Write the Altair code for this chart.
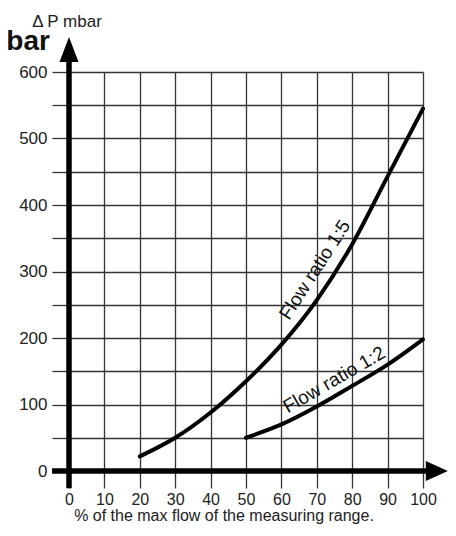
import altair as alt
import pandas as pd

# Curve data
x15 = [20, 30, 40, 50, 60, 70, 80, 90, 100]
y15 = [22, 50, 88, 135, 190, 257, 341, 443, 545]
x12 = [50, 60, 70, 80, 90, 100]
y12 = [50, 70, 97, 128, 160, 198]

x_ticks = list(range(0, 101, 10))
y_ticks = list(range(0, 601, 50))

label_names = ["Flow ratio 1:5", "Flow ratio 1:2"]
label_x = [69.5, 74.9]
label_y = [302.5, 137]

FONT = "Liberation Sans"
GRID = "#333333"

xs = alt.Scale(domain=[0, 100], nice=False, zero=False)
ys = alt.Scale(domain=[0, 600], nice=False, zero=False)

curves = pd.DataFrame({
    "x": x15 + x12,
    "y": y15 + y12,
    "series": ["1:5"] * len(x15) + ["1:2"] * len(x12),
})

xaxis = alt.Axis(
    values=x_ticks, grid=True, gridColor=GRID, gridWidth=1.3, gridOpacity=1,
    ticks=True, tickSize=17, tickColor=GRID, tickWidth=1.3, domain=False,
    labelFont=FONT, labelFontSize=16, labelColor="#222", labelPadding=3,
    labelFlush=False, labelOverlap=False,
    title="% of the max flow of the measuring range.", titleFont=FONT,
    titleFontSize=16, titleFontWeight="normal", titleColor="#222",
    titleX=154.5, titleY=49, titleAlign="center", titleBaseline="alphabetic",
)
yaxis = alt.Axis(
    values=y_ticks, grid=True, gridColor=GRID, gridWidth=1.3, gridOpacity=1,
    ticks=True, tickSize=17, tickColor=GRID, tickWidth=1.3, domain=False,
    labelFont=FONT, labelFontSize=17, labelColor="#222", labelPadding=5,
    labelExpr="datum.value % 100 === 0 ? datum.label : ''",
    labelFlush=False, labelOverlap=False,
    title="Δ P mbar", titleFont=FONT, titleFontSize=17, titleFontWeight="normal",
    titleColor="#222", titleAngle=0, titleX=-2.5, titleY=-46,
    titleAlign="center", titleBaseline="alphabetic",
)

X = alt.X("x:Q", scale=xs, axis=xaxis)
Y = alt.Y("y:Q", scale=ys, axis=yaxis)

lines = alt.Chart(curves).mark_line(
    color="black", strokeWidth=4, strokeCap="round", interpolate="monotone"
).encode(x=X, y=Y, detail="series:N")

axes_df = pd.DataFrame({"x": [0, -4.8], "x2": [0, 105], "y": [-26, 0], "y2": [634, 0]})
axis_lines = alt.Chart(axes_df).mark_rule(color="black", strokeWidth=5.5).encode(
    x=X, x2="x2:Q", y=Y, y2="y2:Q",
)

up_arrow = alt.Chart(pd.DataFrame({"x": [0], "y": [633.8]})).mark_point(
    shape="M -0.95 1.25 L 0 -1.25 L 0.95 1.25 Z", size=400, filled=True,
    color="black", opacity=1, strokeWidth=0,
).encode(x=X, y=Y)

right_arrow = alt.Chart(pd.DataFrame({"x": [103.9], "y": [0]})).mark_point(
    shape="M -1.1 -1 L 1.1 0 L -1.1 1 Z", size=400, filled=True,
    color="black", opacity=1, strokeWidth=0,
).encode(x=X, y=Y)

lab15 = alt.Chart(pd.DataFrame({"x": [label_x[0]], "y": [label_y[0]], "t": [label_names[0]]})).mark_text(
    font=FONT, fontSize=19, color="#111", angle=303, align="center", baseline="middle"
).encode(x=X, y=Y, text="t:N")

lab12 = alt.Chart(pd.DataFrame({"x": [label_x[1]], "y": [label_y[1]], "t": [label_names[1]]})).mark_text(
    font=FONT, fontSize=19, color="#111", angle=330, align="center", baseline="middle"
).encode(x=X, y=Y, text="t:N")

mbar = alt.Chart(pd.DataFrame({"x": [-5.4], "y": [633], "t": ["mbar"]})).mark_text(
    font=FONT, fontSize=28, fontWeight="bold", color="#111", align="right", baseline="alphabetic"
).encode(x=X, y=Y, text="t:N")

chart = alt.layer(lines, axis_lines, up_arrow, right_arrow, lab15, lab12, mbar).properties(
    width=354, height=399,
    padding={"left": 61, "top": 64, "right": 25, "bottom": 53},
    autosize=alt.AutoSizeParams(type="none"),
    background="white",
).configure_view(stroke=None)

chart.save("out.html", embed_options={"renderer": "svg", "actions": False})
